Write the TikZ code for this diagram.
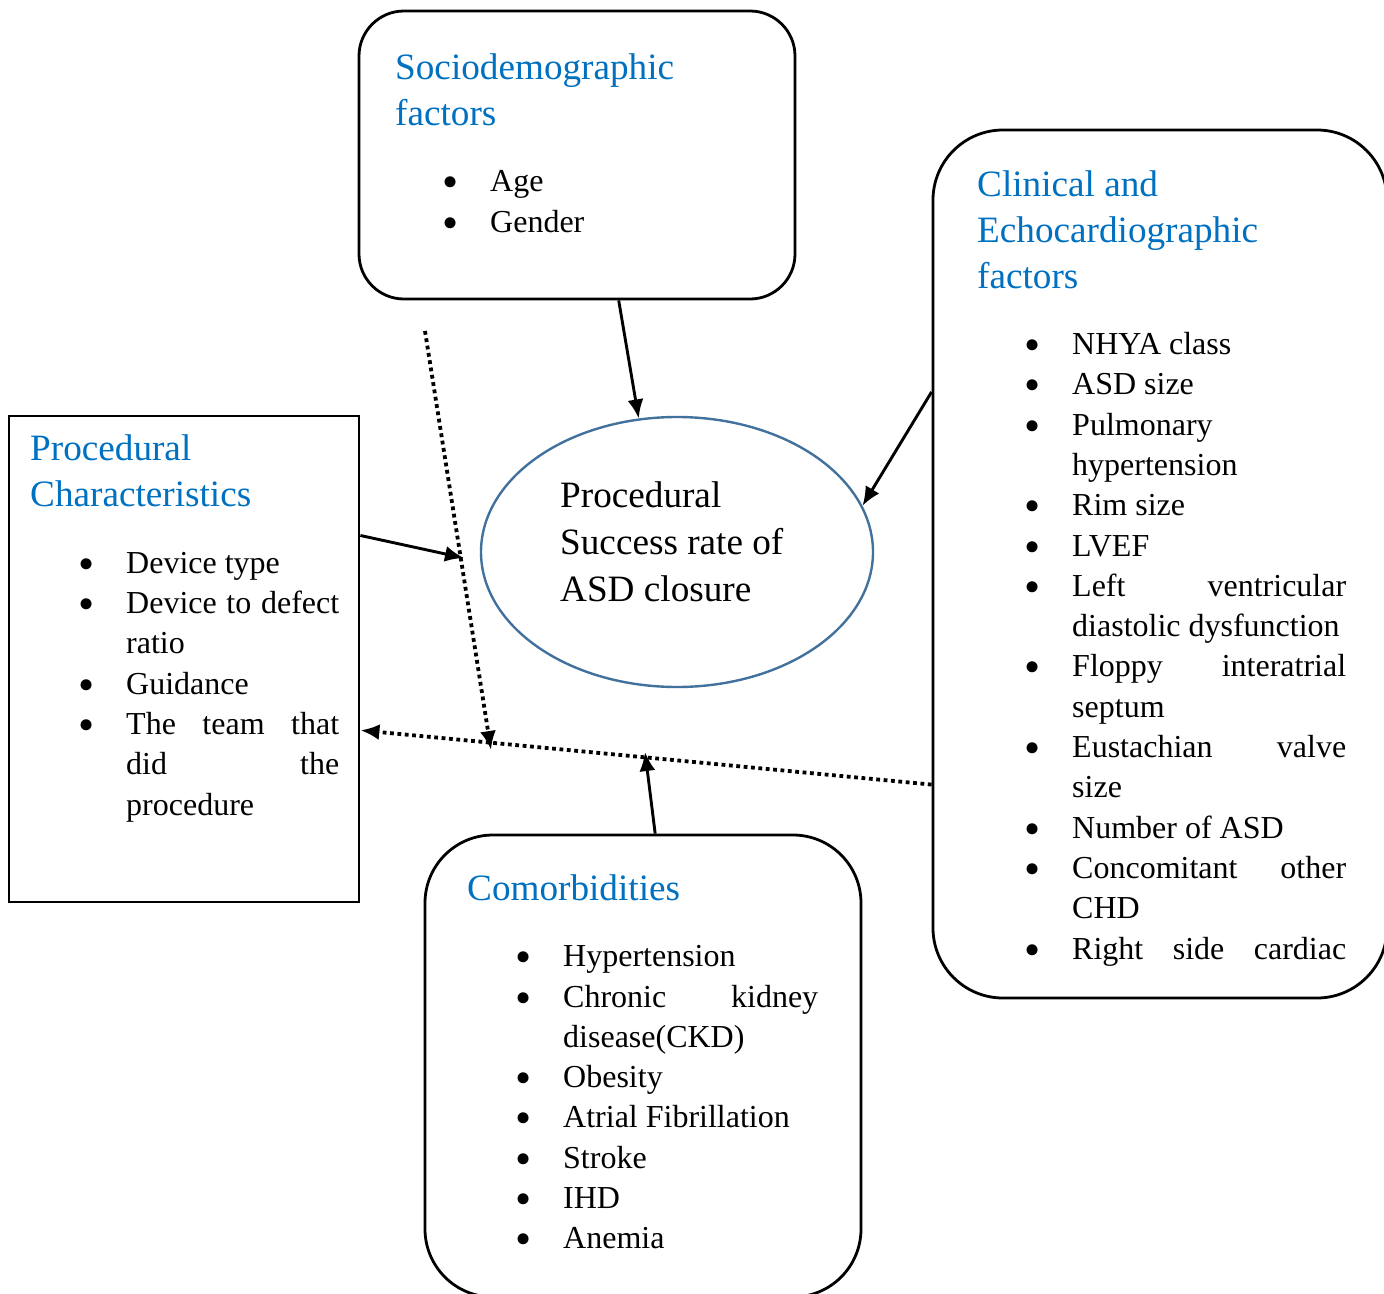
\documentclass[tikz,border=0pt]{standalone}
\usepackage{fontspec}
\setmainfont{Liberation Serif}
\usepackage{array}
\usetikzlibrary{shapes.geometric, arrows.meta}
\definecolor{headblue}{RGB}{0,112,192}
\definecolor{ovalblue}{RGB}{65,113,156}
\tikzstyle{roundbox} = [rectangle, draw=black, line width=2.8pt, inner sep=0pt]
\tikzstyle{plainbox} = [rectangle, draw=black, line width=2.8pt, inner sep=0pt]
\tikzstyle{outcome} = [ellipse, draw=ovalblue, line width=2.4pt, inner sep=0pt]
\tikzstyle{heading} = [anchor=base west, inner sep=0pt, text width=420pt, text=headblue, font=\fontsize{37.2}{46}\selectfont, execute at begin node={\spaceskip=0pt\xspaceskip=0pt}]
\tikzstyle{items} = [anchor=base west, inner sep=0pt, font=\fontsize{32}{40.3}\selectfont]
\tikzstyle{arrow} = [line width=2.9pt, -{Latex[length=19pt,width=16pt]}]
\tikzstyle{dotarrow} = [arrow, line width=3.8pt, dash pattern=on 3.8pt off 3.6pt]
\newcommand{\bullist}[2]{\begin{tabular}[t]{@{}p{40pt}@{}p{#1}@{}}#2\end{tabular}}
\newcommand{\bit}{\makebox[0pt]{\smash{\raisebox{-6pt}{\fontsize{46}{46}\selectfont\textbullet}}}&}

\begin{document}
\begin{tikzpicture}[x=1pt, y=1pt]
        \useasboundingbox (0,0) rectangle (1384,-1293);
        \clip (0,0) rectangle (1384,-1293);
        % Boxes
        \node (socio) [roundbox, rounded corners=45pt, minimum width=436pt, minimum height=288pt] at (577,-155) {};
        \node (clinical) [roundbox, rounded corners=70pt, minimum width=454pt, minimum height=868pt] at (1160,-564) {};
        \node (procedural) [plainbox, minimum width=350pt, minimum height=486pt] at (184,-659) {};
        \node (comorb) [roundbox, rounded corners=68pt, minimum width=436pt, minimum height=462pt] at (643,-1066) {};
        \node (success) [outcome, minimum width=392pt, minimum height=270pt] at (677,-552) {};

        % Texts
        \node (sociohead) [heading] at (395,-79.3) {Sociodemographic\\factors};
        \node (socioitems) [items] at (450,-191.7) {\bullist{300pt}{\bit Age\\ \bit Gender}};

        \node (prochead) [heading] at (30,-460) {Procedural\\Characteristics};
        \node (procitems) [items] at (86,-573.3) {\bullist{213pt}{%
            \bit Device type\\
            \bit Device\hfill to\hfill defect\newline ratio\\
            \bit Guidance\\
            \bit The\hfill team\hfill that\newline did\hfill the\newline procedure}};

        \node (clinhead) [heading] at (977,-196) {Clinical and\\Echocardiographic\\factors};
        \node (clinitems) [items] at (1032,-354.5) {\bullist{274pt}{%
            \bit NHYA class\\
            \bit ASD size\\
            \bit Pulmonary\newline hypertension\\
            \bit Rim size\\
            \bit LVEF\\
            \bit Left\hfill ventricular\newline diastolic dysfunction\\
            \bit Floppy\hfill interatrial\newline septum\\
            \bit Eustachian\hfill valve\newline size\\
            \bit Number of ASD\\
            \bit Concomitant\hfill other\newline CHD\\
            \bit Right\hfill side\hfill cardiac}};

        \node (comorbhead) [heading] at (467,-900.7) {Comorbidities};
        \node (comorbitems) [items] at (523,-966.7) {\bullist{255pt}{%
            \bit Hypertension\\
            \bit Chronic\hfill kidney\newline disease(CKD)\\
            \bit Obesity\\
            \bit Atrial Fibrillation\\
            \bit Stroke\\
            \bit IHD\\
            \bit Anemia}};

        \node (successtext) [heading, text=black, font=\fontsize{37.2}{47}\selectfont, text width=300pt] at (560,-507.3) {Procedural\\Success rate of\\ASD closure};

        % Free ends
        \coordinate (procend) at (464,-558);
        \coordinate (dotstart) at (425,-331);
        \coordinate (dotend) at (491,-750);
        \coordinate (comorbend) at (645,-752);

        % Connections
        \draw [arrow] (socio.-74.5) -- (success.106);
        \draw [arrow] (clinical.143.5) -- (success.14.8);
        \draw [arrow] (procedural.35.1) -- (procend);
        \draw [dotarrow] (dotstart) -- (dotend);
        \draw [dotarrow] (clinical.224.4) -- (procedural.-22.8);
        \draw [arrow] (comorb.87.8) -- (comorbend);
    \end{tikzpicture}
\end{document}
